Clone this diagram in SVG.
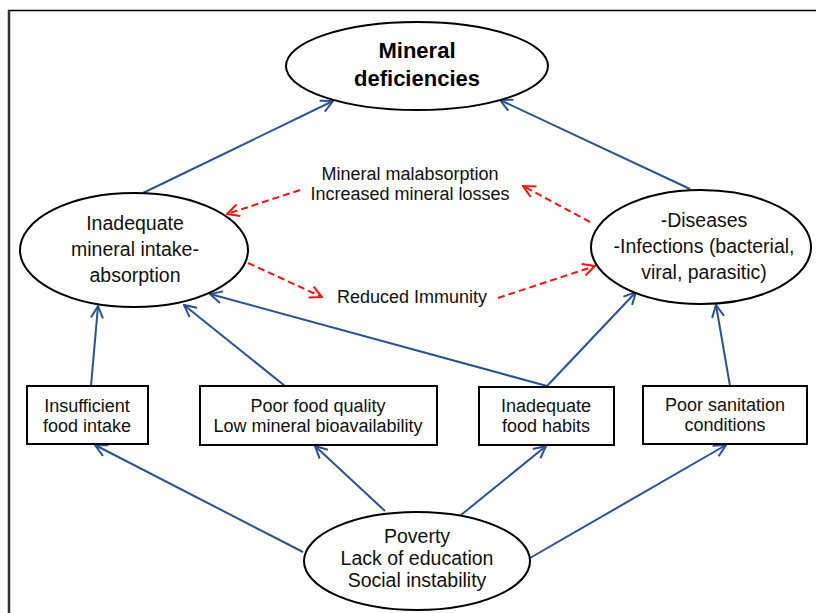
<svg xmlns="http://www.w3.org/2000/svg" width="816" height="613" viewBox="0 0 816 613">
<defs>
<style>
.node ellipse, .node rect { fill: #fff; stroke: #000; stroke-width: 2; }
.t { font-family: "Liberation Sans", Arial, sans-serif; font-size: 19.5px; fill: #111; text-anchor: middle; }
.tl { font-family: "Liberation Sans", Arial, sans-serif; font-size: 18px; fill: #111; text-anchor: middle; }
.tb { font-family: "Liberation Sans", Arial, sans-serif; font-size: 18px; fill: #111; text-anchor: middle; }
.title { font-family: "Liberation Sans", Arial, sans-serif; font-size: 22px; font-weight: bold; fill: #000; text-anchor: middle; }
.blue { stroke: #2B5190; stroke-width: 2; fill: none; marker-end: url(#ab); }
.red { stroke: #FF1010; stroke-width: 2; fill: none; stroke-dasharray: 7 4; marker-end: url(#ar); }
</style>
<marker id="ab" viewBox="0 0 14 14" refX="13" refY="7" markerWidth="14" markerHeight="14" markerUnits="userSpaceOnUse" orient="auto">
<path d="M1,1 L13,7 L1,13" fill="none" stroke="#2B5190" stroke-width="2"/>
</marker>
<marker id="ar" viewBox="0 0 14 14" refX="13" refY="7" markerWidth="14" markerHeight="14" markerUnits="userSpaceOnUse" orient="auto">
<path d="M1,1 L13,7 L1,13" fill="none" stroke="#FF1010" stroke-width="2"/>
</marker>
</defs>
<rect x="0" y="0" width="816" height="613" fill="#fff"/>
<g id="frame">
<line x1="8" y1="10.5" x2="816" y2="10.5" stroke="#000" stroke-width="1.5"/>
<line x1="9" y1="10" x2="9" y2="613" stroke="#333" stroke-width="2.5"/>
</g>
<g id="connectors">
<line class="blue" x1="143" y1="193" x2="333" y2="101"/>
<line class="blue" x1="690" y1="189" x2="500" y2="100"/>
<line class="blue" x1="91" y1="386" x2="98" y2="306"/>
<line class="blue" x1="285" y1="386" x2="184" y2="305"/>
<line class="blue" x1="547" y1="386" x2="210" y2="294"/>
<line class="blue" x1="547" y1="386" x2="636" y2="292"/>
<line class="blue" x1="730" y1="386" x2="716" y2="305"/>
<line class="blue" x1="303" y1="552" x2="95" y2="445"/>
<line class="blue" x1="385" y1="511" x2="315" y2="446"/>
<line class="blue" x1="461" y1="515" x2="546" y2="446"/>
<line class="blue" x1="530" y1="558" x2="726" y2="445"/>
<line class="red" x1="590" y1="222" x2="523" y2="186"/>
<line class="red" x1="300" y1="190" x2="227" y2="214"/>
<line class="red" x1="248" y1="263" x2="322" y2="297"/>
<line class="red" x1="498" y1="298" x2="595" y2="266"/>
</g>
<g id="labels">
<text class="tl" x="410" y="180">Mineral malabsorption</text>
<text class="tl" x="410" y="200">Increased mineral losses</text>
<text class="tl" x="412" y="303">Reduced Immunity</text>
</g>
<g id="mineral-deficiencies" class="node">
<ellipse cx="417" cy="66" rx="131" ry="44"/>
<text class="title" x="417" y="58">Mineral</text>
<text class="title" x="417" y="86">deficiencies</text>
</g>
<g id="inadequate-intake" class="node">
<ellipse cx="134" cy="250" rx="114" ry="57"/>
<text class="t" x="135" y="230">Inadequate</text>
<text class="t" x="135" y="256">mineral intake-</text>
<text class="t" x="135" y="282">absorption</text>
</g>
<g id="diseases" class="node">
<ellipse cx="701" cy="247" rx="110" ry="57"/>
<text class="t" x="704" y="227">-Diseases</text>
<text class="t" x="704" y="253">-Infections (bacterial,</text>
<text class="t" x="704" y="279">viral, parasitic)</text>
</g>
<g id="insufficient-food" class="node">
<rect x="27" y="386" width="121" height="58"/>
<text class="tb" x="87" y="412">Insufficient</text>
<text class="tb" x="87" y="432">food intake</text>
</g>
<g id="poor-food-quality" class="node">
<rect x="200" y="386" width="237" height="59"/>
<text class="tb" x="318" y="412">Poor food quality</text>
<text class="tb" x="318" y="432">Low mineral bioavailability</text>
</g>
<g id="food-habits" class="node">
<rect x="479" y="387" width="135" height="58"/>
<text class="tb" x="546" y="412">Inadequate</text>
<text class="tb" x="546" y="432">food habits</text>
</g>
<g id="sanitation" class="node">
<rect x="643" y="386" width="164" height="58"/>
<text class="tb" x="725" y="411">Poor sanitation</text>
<text class="tb" x="725" y="431">conditions</text>
</g>
<g id="poverty" class="node">
<ellipse cx="417" cy="561" rx="113" ry="49"/>
<text class="t" x="417" y="543">Poverty</text>
<text class="t" x="417" y="565">Lack of education</text>
<text class="t" x="417" y="587">Social instability</text>
</g>
</svg>
